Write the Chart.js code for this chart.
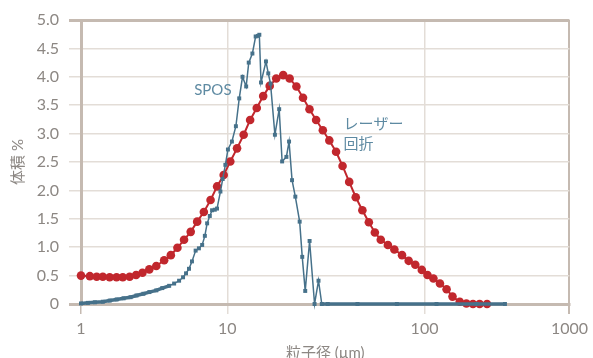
<!DOCTYPE html>
<html lang="ja">
<head>
<meta charset="utf-8">
<title>粒子径分布</title>
<script src="https://cdn.jsdelivr.net/npm/chart.js@4/dist/chart.umd.min.js"></script>
<style>
    html, body { margin: 0; padding: 0; background: #ffffff; }
    #wrap { width: 593px; height: 358px; }
</style>
</head>
<body>
<div id="wrap"><canvas id="psdChart" width="593" height="358"></canvas></div>
<script>
/* -------------------------------------
   Data
------------------------------------- */
// SPOS (µm / volume %)
const sposSize = [1.00, 1.115, 1.244, 1.409, 1.572, 1.753, 1.955, 2.181, 2.394, 2.670,
    2.932, 3.270, 3.591, 4.005, 4.330, 4.681, 4.982, 5.221, 5.470, 5.733,
    6.072, 6.393, 6.730, 7.020, 7.276, 7.589, 7.866, 8.204, 8.504, 8.968,
    9.294, 9.694, 10.07, 10.55, 11.05, 11.49, 11.94, 12.46, 12.84, 13.40,
    13.92, 14.28, 14.53, 14.82, 15.70, 16.13, 16.56, 17.43, 18.32, 18.96,
    19.93, 20.56, 21.29, 22.12, 23.27, 23.98, 24.83, 26.13, 27.69, 29.00,
    30.13, 32.3, 45.7, 72.4, 121, 228, 359];
const sposVol = [0.01, 0.02, 0.03, 0.04, 0.06, 0.08, 0.10, 0.12, 0.15, 0.18,
    0.21, 0.24, 0.28, 0.32, 0.36, 0.41, 0.47, 0.54, 0.62, 0.75,
    0.94, 0.98, 1.04, 1.20, 1.42, 1.55, 1.65, 1.66, 1.68, 1.98,
    2.20, 2.45, 2.72, 2.86, 3.13, 3.62, 4.00, 3.83, 4.25, 4.41,
    4.71, 4.72, 4.74, 3.90, 4.27, 4.06, 3.88, 2.98, 3.43, 2.51,
    2.59, 2.86, 2.18, 1.89, 1.45, 0.83, 0.23, 1.11, 0, 0.41,
    0, 0, 0, 0, 0, 0, 0];

// レーザー回折
const laserSize = [1.0, 1.15, 1.28, 1.41, 1.57, 1.75, 1.93, 2.15, 2.38, 2.63,
    2.93, 3.27, 3.70, 4.11, 4.56, 5.06, 5.62, 6.22, 6.91, 7.68,
    8.51, 9.44, 10.35, 11.2, 12.1, 13.05, 14.1, 15.2, 16.4, 17.7,
    19.2, 20.7, 22.4, 24.2, 26.1, 28.2, 30.5, 32.9, 35.6, 38.4,
    41.5, 44.8, 48.4, 52.2, 56.0, 60.0, 65.2, 70.3, 76.9, 83.1,
    89.8, 96.9, 104.8, 115.2, 127.8, 142, 156, 175, 194.5, 216,
    240, 270];
const laserVol = [0.50, 0.49, 0.48, 0.48, 0.47, 0.47, 0.47, 0.48, 0.51, 0.55,
    0.61, 0.67, 0.77, 0.86, 0.99, 1.13, 1.27, 1.45, 1.62, 1.83,
    2.07, 2.27, 2.51, 2.74, 2.98, 3.24, 3.45, 3.66, 3.84, 3.97,
    4.03, 3.97, 3.83, 3.63, 3.43, 3.24, 3.06, 2.88, 2.68, 2.43,
    2.15, 1.88, 1.65, 1.44, 1.26, 1.13, 1.04, 0.96, 0.86, 0.76,
    0.69, 0.60, 0.51, 0.45, 0.36, 0.26, 0.13, 0.04, 0.01, 0,
    0, 0];

// Axis ticks
const xTicks = [1, 10, 100, 1000];
const xTickLabels = ['1', '10', '100', '1000'];
const yTicks = [0, 0.5, 1, 1.5, 2, 2.5, 3, 3.5, 4, 4.5, 5];
const yTickLabels = ['0', '0.5', '1.0', '1.5', '2.0', '2.5', '3.0', '3.5', '4.0', '4.5', '5.0'];

// Series labels: [text, x (µm), y (%)]
const seriesNotes = [
    ['SPOS', 10.5, 3.76, 'right'],
    ['レーザー', 38.8, 3.16, 'left'],
    ['回折', 38.8, 2.82, 'left']
];

/* -------------------------------------
   Log scale whose decades are not equally wide
   (the source figure stretches 10–100)
------------------------------------- */
const decadeEdges = [0, 0.2996, 0.7033, 1];

class DecadeLogScale extends Chart.LogarithmicScale {
    getPixelForValue(value) {
        const lg = Math.log10(value > 0 ? value : this.min);
        const d = Math.min(Math.max(Math.floor(lg), 0), 2);
        const frac = decadeEdges[d] + (lg - d) * (decadeEdges[d + 1] - decadeEdges[d]);
        return this.getPixelForDecimal(frac);
    }
    getValueForPixel(pixel) {
        const frac = this.getDecimalForPixel(pixel);
        let d = 0;
        while (d < 2 && frac > decadeEdges[d + 1]) d++;
        const lg = d + (frac - decadeEdges[d]) / (decadeEdges[d + 1] - decadeEdges[d]);
        return Math.pow(10, lg);
    }
}
DecadeLogScale.id = 'decadelog';
DecadeLogScale.defaults = Chart.LogarithmicScale.defaults;
Chart.register(DecadeLogScale);

/* -------------------------------------
   Styles
------------------------------------- */
const AXIS = '#c5bab1';
const GRID = '#e3ddd7';
const TEXT = '#8c8783';
const BLUE = '#46718a';
const RED = '#c1272d';
const FONT = "Lato, 'Noto Sans CJK JP', sans-serif";

const seriesLabels = {
    id: 'seriesLabels',
    afterDatasetsDraw(chart) {
        const { ctx, scales: { x, y } } = chart;
        ctx.save();
        ctx.font = "15px " + FONT;
        ctx.fillStyle = '#5e8aa2';
        ctx.textBaseline = 'middle';
        seriesNotes.forEach(([text, xv, yv, align]) => {
            ctx.textAlign = align;
            ctx.fillText(text, x.getPixelForValue(xv), y.getPixelForValue(yv));
        });
        ctx.restore();
    }
};

const toPoints = (xs, ys) => xs.map((v, i) => ({ x: v, y: ys[i] }));

new Chart(document.getElementById('psdChart'), {
    type: 'line',
    data: {
        datasets: [{
            label: 'SPOS',
            data: toPoints(sposSize, sposVol),
            borderColor: BLUE,
            backgroundColor: BLUE,
            borderWidth: 1.5,
            pointStyle: 'rect',
            pointRadius: 2.8,
            pointBorderWidth: 0,
            tension: 0,
            clip: false,
            segment: {
                borderWidth: c => (c.p0.parsed.y < 0.35 && c.p1.parsed.y < 0.35 && c.p1.parsed.x < 25) ||
                    (c.p0.parsed.y === 0 && c.p1.parsed.y === 0) ? 3.5 : undefined
            }
        }, {
            label: 'レーザー回折',
            data: toPoints(laserSize, laserVol),
            borderColor: RED,
            backgroundColor: RED,
            borderWidth: 2,
            pointStyle: 'circle',
            pointRadius: 4.3,
            pointBorderWidth: 0,
            tension: 0,
            clip: false
        }]
    },
    options: {
        responsive: false,
        devicePixelRatio: 1,
        animation: false,
        layout: { padding: { top: 20, right: 19, left: 0, bottom: 0 } },
        plugins: {
            legend: { display: false },
            tooltip: { enabled: false }
        },
        scales: {
            x: {
                type: 'decadelog',
                min: 1,
                max: 1000,
                afterBuildTicks: axis => { axis.ticks = xTicks.map(v => ({ value: v })); },
                afterFit: axis => { axis.height = 54; },
                border: { color: AXIS, width: 3 },
                grid: {
                    color: c => (c.tick && (c.tick.value === 1 || c.tick.value === 1000)) ? AXIS : GRID,
                    lineWidth: c => (c.tick && c.tick.value === 1000) ? 2 : 1.5,
                    tickColor: c => (c.tick && (c.tick.value === 1 || c.tick.value === 1000)) ? AXIS : GRID,
                    tickLength: 10
                },
                ticks: {
                    autoSkip: false,
                    maxRotation: 0,
                    padding: 5,
                    color: TEXT,
                    font: { family: FONT, size: 16 },
                    callback: (v, i) => xTickLabels[i]
                },
                title: {
                    display: true,
                    text: '粒子径 (µm)',
                    color: TEXT,
                    font: { family: FONT, size: 15, lineHeight: 0.6 },
                    padding: { top: 0, bottom: 0 }
                }
            },
            y: {
                type: 'linear',
                min: 0,
                max: 5,
                afterBuildTicks: axis => { axis.ticks = yTicks.map(v => ({ value: v })); },
                afterFit: axis => { axis.width = 81; },
                border: { color: AXIS, width: 3 },
                grid: {
                    color: c => (c.tick && (c.tick.value === 0 || c.tick.value === 5)) ? AXIS : GRID,
                    lineWidth: c => (c.tick && (c.tick.value === 0 || c.tick.value === 5)) ? 3 : 1.5,
                    tickColor: c => (c.tick && (c.tick.value === 0 || c.tick.value === 5)) ? AXIS : GRID,
                    tickLength: 12
                },
                ticks: {
                    autoSkip: false,
                    padding: 10,
                    color: TEXT,
                    font: { family: FONT, size: 16 },
                    callback: (v, i) => yTickLabels[i]
                },
                title: {
                    display: true,
                    text: '体積 %',
                    color: TEXT,
                    font: { family: FONT, size: 15 },
                    padding: { top: 9, bottom: 0 }
                }
            }
        }
    },
    plugins: [seriesLabels]
});
</script>
</body>
</html>
